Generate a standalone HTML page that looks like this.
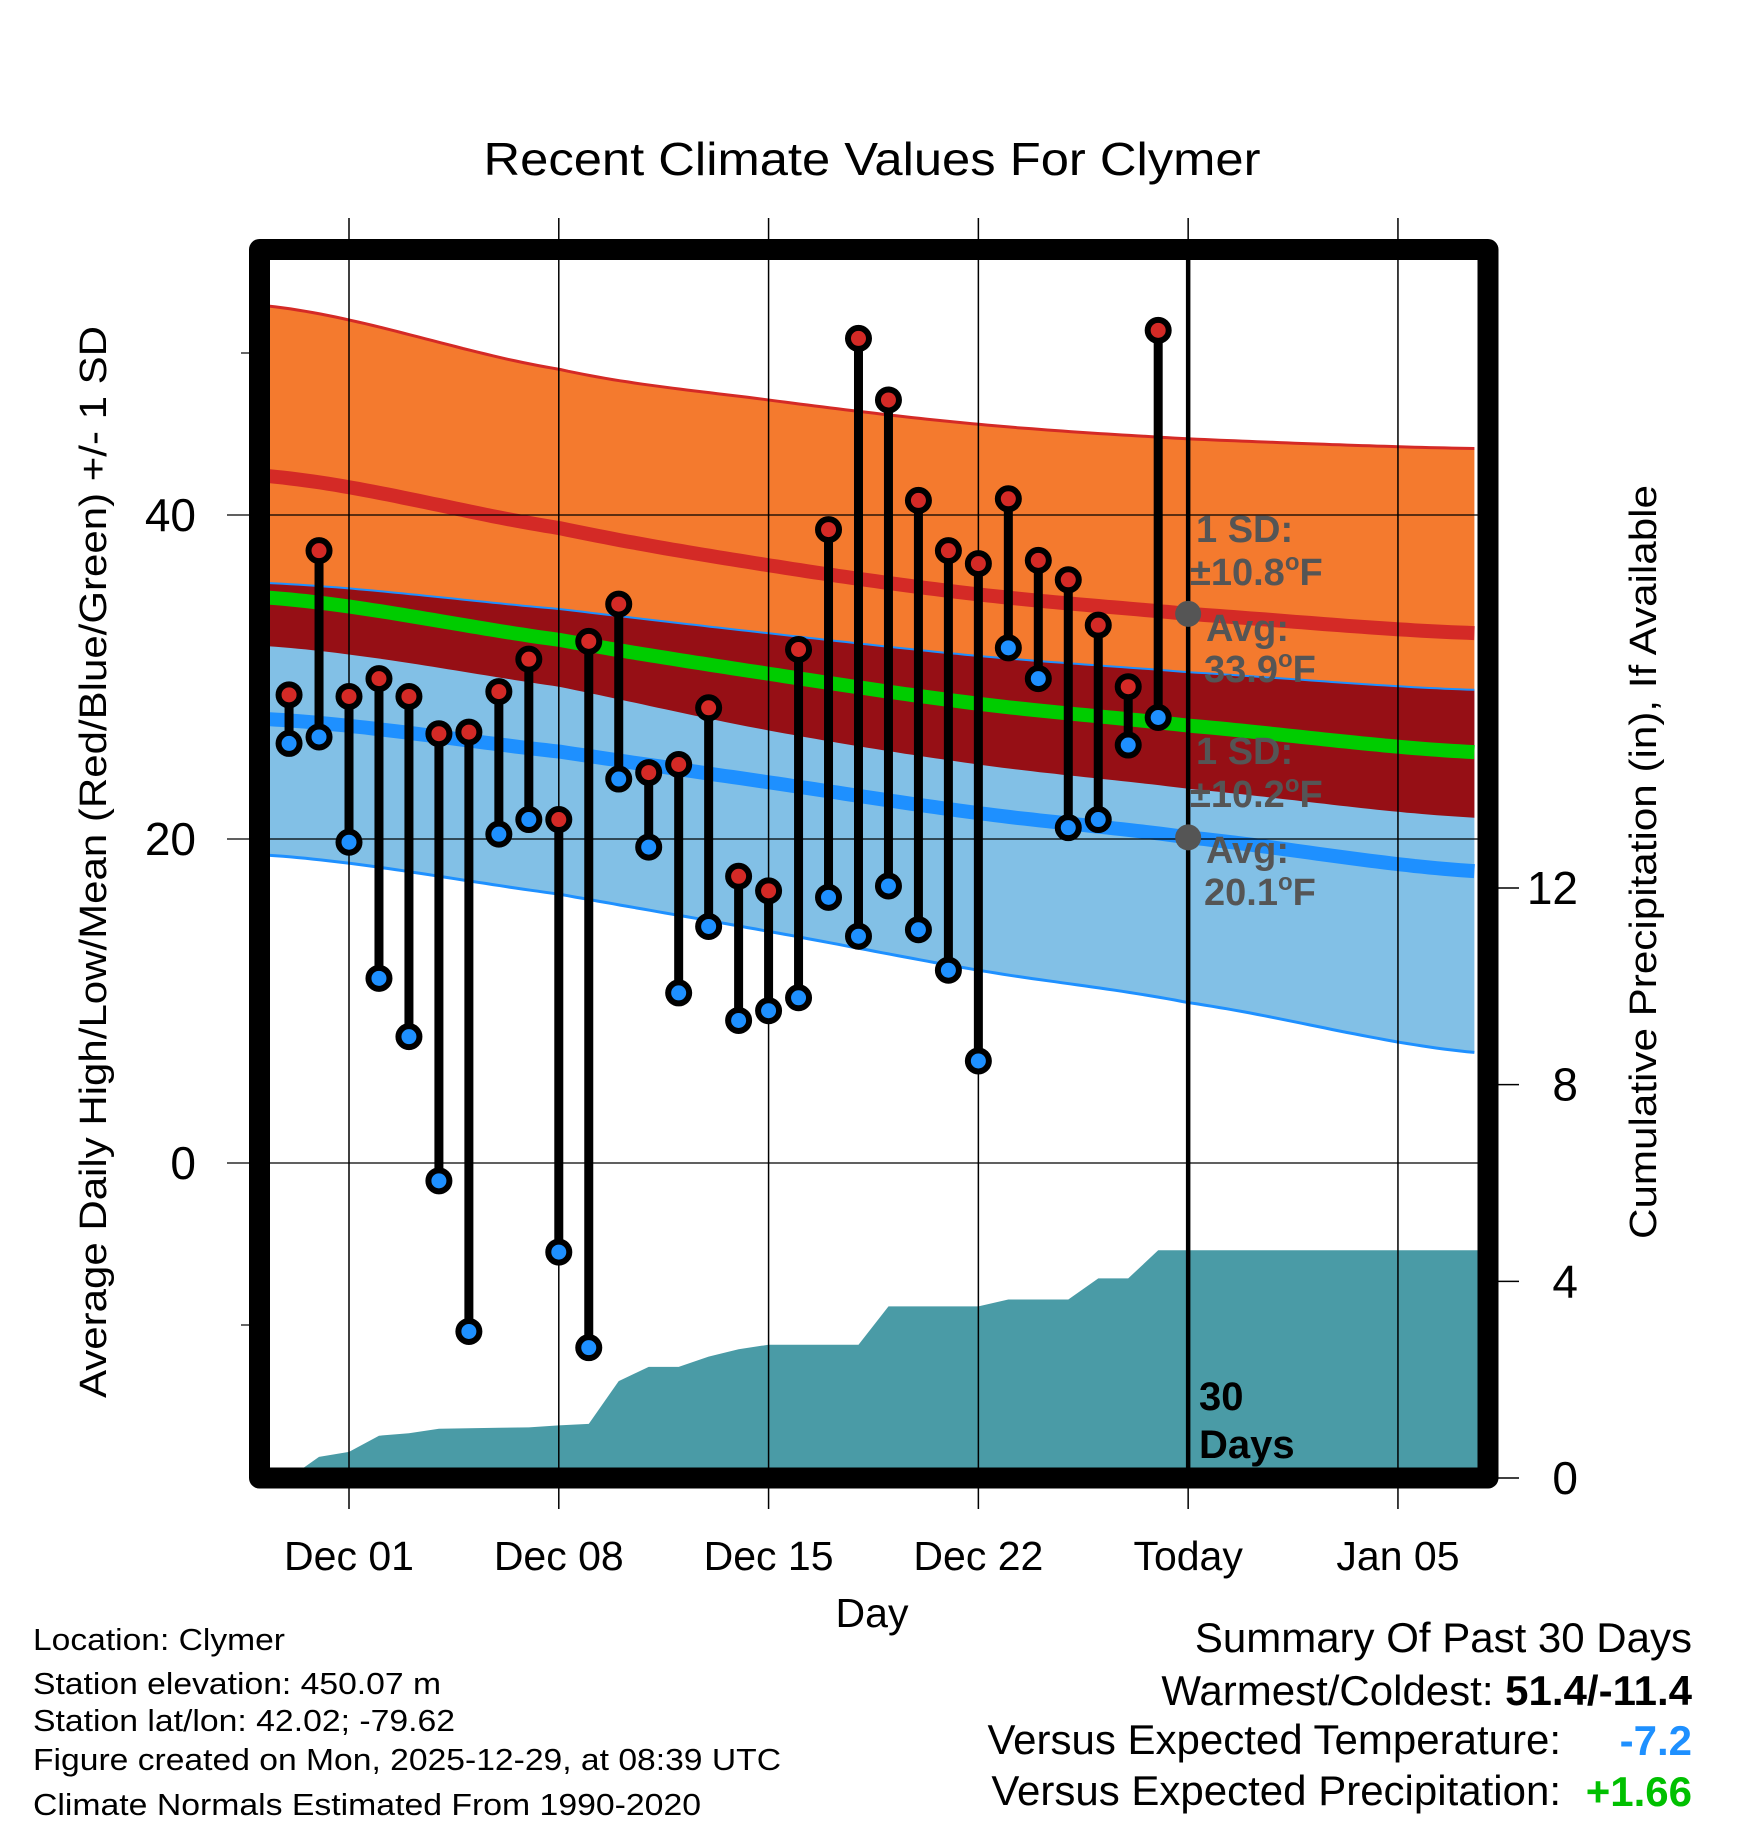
<!DOCTYPE html>
<html><head><meta charset="utf-8"><style>
html,body{margin:0;padding:0;background:#fff;}
svg{display:block;font-family:"Liberation Sans",sans-serif;}
</style></head><body>
<svg id="chart" width="1748" height="1828" viewBox="0 0 1748 1828" xmlns="http://www.w3.org/2000/svg">
<defs><clipPath id="plotclip"><rect x="270" y="260" width="1208" height="1208"/></clipPath></defs>
<rect width="1748" height="1828" fill="#fff"/>
<text x="872" y="175" text-anchor="middle" font-size="46" textLength="777" lengthAdjust="spacingAndGlyphs">Recent Climate Values For Clymer</text>
<g id="bands" clip-path="url(#plotclip)"></g>
<g id="grid"></g>
<g id="marks" clip-path="url(#plotclip)"></g>
<g id="annot"></g>
<rect x="259.5" y="249.5" width="1228.5" height="1228.5" fill="none" stroke="#000" stroke-width="21" stroke-linejoin="round"/>
<g id="axes"></g>
<text transform="translate(106,862) rotate(-90)" text-anchor="middle" font-size="38" textLength="1072" lengthAdjust="spacingAndGlyphs">Average Daily High/Low/Mean (Red/Blue/Green) +/- 1 SD</text>
<text transform="translate(1656,862) rotate(-90)" text-anchor="middle" font-size="38" textLength="754" lengthAdjust="spacingAndGlyphs">Cumulative Precipitation (in), If Available</text>
<text x="872" y="1627" text-anchor="middle" font-size="41">Day</text>
<g font-size="31">
<text x="33" y="1650" textLength="252" lengthAdjust="spacingAndGlyphs">Location: Clymer</text>
<text x="33" y="1694" textLength="408" lengthAdjust="spacingAndGlyphs">Station elevation: 450.07 m</text>
<text x="33" y="1731" textLength="422" lengthAdjust="spacingAndGlyphs">Station lat/lon: 42.02; -79.62</text>
<text x="33" y="1770" textLength="748" lengthAdjust="spacingAndGlyphs">Figure created on Mon, 2025-12-29, at 08:39 UTC</text>
<text x="33" y="1815" textLength="668" lengthAdjust="spacingAndGlyphs">Climate Normals Estimated From 1990-2020</text>
</g>
<g font-size="42" text-anchor="end">
<text x="1692" y="1652">Summary Of Past 30 Days</text>
<text x="1692" y="1705">Warmest/Coldest: <tspan font-weight="bold">51.4/-11.4</tspan></text>
<text x="1561" y="1754">Versus Expected Temperature:</text>
<text x="1692" y="1755" font-weight="bold" fill="#1E90FF">-7.2</text>
<text x="1561" y="1805">Versus Expected Precipitation:</text>
<text x="1692" y="1806" font-weight="bold" fill="#00C000">+1.66</text>
</g>
</svg>
<script>
// Day index 0 = Nov 29
const highs = [28.9,37.8,28.8,29.9,28.8,26.5,26.6,29.1,31.1,21.2,32.2,34.5,24.1,24.6,28.1,17.7,16.8,31.7,39.1,50.9,47.1,40.9,37.8,37.0,41.0,37.2,36.0,33.2,29.4,51.4];
const lows = [25.9,26.3,19.8,11.4,7.8,-1.1,-10.4,20.3,21.2,-5.5,-11.4,23.7,19.5,10.5,14.6,8.8,9.4,10.2,16.4,14.0,17.1,14.4,11.9,6.3,31.8,29.9,20.7,21.2,25.8,27.5];
const precip = [0,0.43,0.53,0.86,0.91,1.00,1.01,1.02,1.03,1.07,1.10,1.97,2.26,2.26,2.47,2.62,2.71,2.71,2.71,2.71,3.49,3.49,3.49,3.49,3.63,3.63,3.63,4.06,4.06,4.63];
const normDays = [-0.7,9,16,23,30,39.7];
const normHigh = [42.4,39.2,36.9,35.1,33.9,32.7];
const sdHigh = [10.5,9.8,10.2,10.5,10.8,11.4];
const normLow = [27.4,25.4,23.5,21.6,20.1,18.0];
const sdLow = [8.4,8.8,9.2,9.7,10.2,11.2];
const xTickLabels = ["Dec 01","Dec 08","Dec 15","Dec 22","Today","Jan 05"];
const xTickDays = [2,9,16,23,30,37];
const yTicks = [40,20,0];
const yMinorTicks = [50,-10];
const y2Ticks = [0,4,8,12];

const NS="http://www.w3.org/2000/svg";
const X = d => 349 + (d-2)*29.97;
const Y = t => 1163 - t*16.2;
const YP = p => 1478 - p*49.17;
function mk(tag, attrs, parent){const e=document.createElementNS(NS,tag);for(const k in attrs)e.setAttribute(k,attrs[k]);parent.appendChild(e);return e;}
function interp(arr,d){
  const n=normDays.length;
  let i=0;while(i<n-2&&d>normDays[i+1])i++;
  const t=(d-normDays[i])/(normDays[i+1]-normDays[i]);
  const p0=arr[Math.max(i-1,0)],p1=arr[i],p2=arr[i+1],p3=arr[Math.min(i+2,n-1)];
  const m1=(p2-p0)/2,m2=(p3-p1)/2;
  const t2=t*t,t3=t2*t;
  return (2*t3-3*t2+1)*p1+(t3-2*t2+t)*m1+(-2*t3+3*t2)*p2+(t3-t2)*m2;
}
const ds=[];for(let d=-0.7;d<=39.71;d+=0.25)ds.push(d);
const curve=f=>ds.map(d=>[X(d),Y(f(d))]);
const hi=d=>interp(normHigh,d), hsd=d=>interp(sdHigh,d), lo=d=>interp(normLow,d), lsd=d=>interp(sdLow,d);
const hiUp=curve(d=>hi(d)+hsd(d)), hiDn=curve(d=>hi(d)-hsd(d));
const loUp=curve(d=>lo(d)+lsd(d)), loDn=curve(d=>lo(d)-lsd(d));
const ovTop=curve(d=>Math.min(hi(d)+hsd(d),lo(d)+lsd(d))), ovBot=curve(d=>Math.max(hi(d)-hsd(d),lo(d)-lsd(d)));
const pts=a=>a.map(p=>p[0].toFixed(1)+","+p[1].toFixed(1)).join(" ");
const band=(u,l)=>pts(u)+" "+pts(l.slice().reverse());
const bands=document.getElementById('bands');
let e;
e=mk('polygon',{points:band(hiUp,hiDn),fill:'#F47A2E'},bands);


e=mk('polygon',{points:band(loUp,loDn),fill:'#82C0E6'},bands);


e=mk('polygon',{points:band(ovTop,ovBot),fill:'#960F15'},bands);


e=mk('polyline',{points:pts(hiUp),fill:'none',stroke:'#D42A26','stroke-width':3},bands);


e=mk('polyline',{points:pts(loUp),fill:'none',stroke:'#1E90FF','stroke-width':2},bands);


e=mk('polyline',{points:pts(loDn),fill:'none',stroke:'#1E90FF','stroke-width':3},bands);


e=mk('polyline',{points:pts(curve(hi)),fill:'none',stroke:'#D42A26','stroke-width':14},bands);


e=mk('polyline',{points:pts(curve(d=>(hi(d)+lo(d))/2)),fill:'none',stroke:'#00CC00','stroke-width':14},bands);


e=mk('polyline',{points:pts(curve(lo)),fill:'none',stroke:'#1E90FF','stroke-width':14},bands);


// precip area
let pp=precip.map((p,i)=>[X(i),YP(p)]);
pp.push([1480,YP(precip[precip.length-1])]);pp.push([1480,1480]);pp.push([X(0),1480]);
e=mk('polygon',{points:pts(pp),fill:'#4A9BA6'},bands);


// grid
const grid=document.getElementById('grid');
xTickDays.forEach((d,i)=>{
  e=mk('line',{x1:X(d),x2:X(d),y1:218,y2:1509,stroke:'#000','stroke-width':1.5},grid);
  
  
  e=mk('text',{x:X(d),y:1570,'text-anchor':'middle','font-size':41},grid);
  e.textContent=xTickLabels[i];
  
  
});
yTicks.forEach(t=>{
  e=mk('line',{x1:227,x2:1478,y1:Y(t),y2:Y(t),stroke:'#000','stroke-width':1.2},grid);
  
  
  e=mk('text',{x:196,y:Y(t)+16,'text-anchor':'end','font-size':46},grid);
  e.textContent=t;
  
  
});
yMinorTicks.forEach(t=>{
  e=mk('line',{x1:241,x2:252,y1:Y(t),y2:Y(t),stroke:'#000','stroke-width':1.2},grid);
  
  
});
y2Ticks.forEach(p=>{
  e=mk('line',{x1:1490,x2:1519,y1:YP(p),y2:YP(p),stroke:'#000','stroke-width':1.5},grid);
  
  
  e=mk('text',{x:1578,y:YP(p)+16,'text-anchor':'end','font-size':46},grid);
  e.textContent=p;
  
  
});
// marks
const marks=document.getElementById('marks');
highs.forEach((h,i)=>{
  e=mk('line',{x1:X(i),x2:X(i),y1:Y(h),y2:Y(lows[i]),stroke:'#000','stroke-width':9},marks);
  
  
});
highs.forEach((h,i)=>{
  e=mk('circle',{cx:X(i),cy:Y(h),r:10.5,fill:'#D42A26',stroke:'#000','stroke-width':6},marks);
  
  
  e=mk('circle',{cx:X(i),cy:Y(lows[i]),r:10.5,fill:'#1E90FF',stroke:'#000','stroke-width':6},marks);
  
  
});
e=mk('line',{x1:X(30),x2:X(30),y1:255,y2:1470,stroke:'#000','stroke-width':4.5},marks);


// annotations
const an=document.getElementById('annot');
const tx=X(30);
function lbl(x,y,txt,name,fill){const t=mk('text',{x:x,y:y,'font-size':38,'font-weight':'bold',fill:fill},an);t.innerHTML=txt;return t;}
lbl(1196,542,'1 SD:','high-sd-label','#555');
lbl(1190,585,'±10.8<tspan font-size="24" dy="-15">o</tspan><tspan dy="15">F</tspan>','high-sd-value','#555');
e=mk('circle',{cx:tx,cy:Y(normHigh[4]),r:13,fill:'#555'},an);


lbl(1206,641,'Avg:','high-avg-label','#555');
lbl(1204,682,'33.9<tspan font-size="24" dy="-15">o</tspan><tspan dy="15">F</tspan>','high-avg-value','#555');
lbl(1196,764,'1 SD:','low-sd-label','#555');
lbl(1190,807,'±10.2<tspan font-size="24" dy="-15">o</tspan><tspan dy="15">F</tspan>','low-sd-value','#555');
e=mk('circle',{cx:tx,cy:Y(normLow[4]),r:13,fill:'#555'},an);


lbl(1206,863,'Avg:','low-avg-label','#555');
lbl(1204,905,'20.1<tspan font-size="24" dy="-15">o</tspan><tspan dy="15">F</tspan>','low-avg-value','#555');
const d1=lbl(1199,1410,'30','days-count','#000');d1.setAttribute('font-size','40');
const d2=lbl(1199,1458,'Days','days-label','#000');d2.setAttribute('font-size','40');
</script>
</body></html>
